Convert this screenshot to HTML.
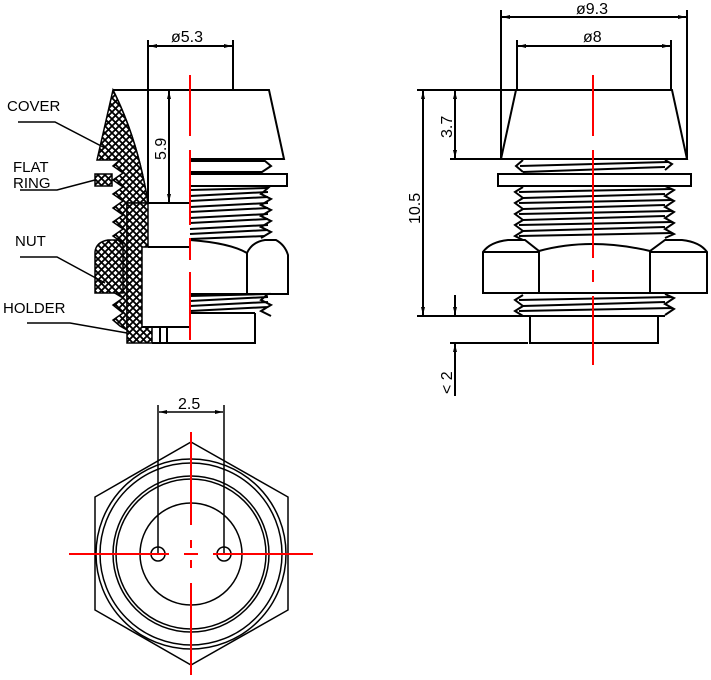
<!DOCTYPE html>
<html><head><meta charset="utf-8"><style>
html,body{margin:0;padding:0;background:#fff}
svg{display:block}
text{font-family:"Liberation Sans",sans-serif;fill:#000}
</style></head><body>
<svg width="711" height="680" viewBox="0 0 711 680" xmlns="http://www.w3.org/2000/svg">
<defs>
<pattern id="h" width="7" height="7" patternUnits="userSpaceOnUse">
<rect width="7" height="7" fill="#fff"/>
<path d="M0,0L7,7M7,0L0,7" stroke="#000" stroke-width="1.8"/>
</pattern>
<marker id="a" markerWidth="8" markerHeight="4" refX="8" refY="2" orient="auto-start-reverse" markerUnits="userSpaceOnUse"><path d="M0,0L8,2L0,4z" fill="#000"/></marker>
</defs>
<g fill="none" stroke="#000" stroke-width="2">
<line x1="148" y1="40" x2="148" y2="203"/>
<line x1="233" y1="40" x2="233" y2="90"/>
<line x1="149" y1="46" x2="232" y2="46" marker-start="url(#a)" marker-end="url(#a)"/>
<line x1="169" y1="91" x2="169" y2="202" marker-start="url(#a)" marker-end="url(#a)"/>
<path d="M113,90 L269,90 L284,159 L190,159"/>
<path d="M113,90 Q138,140 148,203 L127,203 L127,330 L120,326 L113,320 L123,313 L113,305 L123,298 L113,292 L123,285 L113,278 L123,271 L113,264 L123,257 L113,250 L123,243 L113,236 L123,229 L113,222 L123,215 L113,208 L123,201 L113,194 L123,187 L113,180 L123,173 L113,166 L120,160 L97,160 Z" fill="url(#h)" stroke-width="1.5"/>
<path d="M113,90 Q138,140 148,203 L127,203 L127,343 L152,343 L152,327 L142,327 L142,247 L148,247 L148,203" fill="url(#h)" stroke-width="1.5"/>
<rect x="95" y="174" width="17" height="12" fill="url(#h)" stroke-width="1.5"/>
<path d="M95,252 Q96,242 108,240 L118,240 L123,245 L123,293 L95,293 Z" fill="url(#h)" stroke-width="1.5"/>
<path d="M148,203 L190,203 M148,247 L190,247 M142,327 L190,327 M152,343 L255,343 L255,313 M160,327 L160,343 M167,327 L167,343"/>
<path d="M190,161 L265,161 L271,166 L262,172 L190,172"/>
<rect x="190" y="174" width="97" height="12"/>
<path d="M190,190 L268,188 L261,194 L271,199 L261,205 L271,210 L261,216 L271,221 L261,227 L271,232 L261,238"/>
<path d="M190,196 L268,192 M190,201 L268,197 M190,207 L268,203 M190,212 L268,208 M190,218 L268,214 M190,223 L268,219 M190,229 L268,225 M190,234 L268,230 M190,239 L265,236"/>
<path d="M190,240 Q230,243 247,253 Q252,242 265,240 L276,240 Q285,245 288,255 L288,294 L190,294 M247,253 L247,294"/>
<path d="M190,296 L268,294 L261,300 L271,305 L261,311 L271,316 M190,301 L268,297 M190,306 L268,302 M190,311 L268,307 M190,313 L255,313"/>
<path d="M18,122 L55,122 L105,148" stroke-width="1.5"/>
<path d="M20,190 L57,190 L95,180" stroke-width="1.5"/>
<path d="M20,257 L57,257 L105,283" stroke-width="1.5"/>
<path d="M27,323 L70,323 L127,333" stroke-width="1.5"/>

<line x1="501" y1="10" x2="501" y2="159"/>
<line x1="687" y1="10" x2="687" y2="159"/>
<line x1="502" y1="17" x2="686" y2="17" marker-start="url(#a)" marker-end="url(#a)"/>
<line x1="517" y1="40" x2="517" y2="90"/>
<line x1="671" y1="40" x2="671" y2="90"/>
<line x1="518" y1="46" x2="670" y2="46" marker-start="url(#a)" marker-end="url(#a)"/>
<path d="M417,90 L672,90 L687,159 L450,159 M516,90 L501,159"/>
<line x1="423" y1="91" x2="423" y2="315" marker-start="url(#a)" marker-end="url(#a)"/>
<line x1="455" y1="91" x2="455" y2="158" marker-start="url(#a)" marker-end="url(#a)"/>
<path d="M417,316 L665,316 M450,343 L528,343 M455,295 L455,315 M455,344 L455,396"/>
<line x1="455" y1="296" x2="455" y2="315" marker-end="url(#a)"/>
<line x1="455" y1="396" x2="455" y2="344" marker-end="url(#a)"/>
<rect x="530" y="316" width="128" height="27"/>
<path d="M523,160 L516,166 L523,172 M665,160 L672,164 L665,170 M520,166 L668,162 M523,172 L665,167"/>
<rect x="498" y="174" width="193" height="12"/>
<path d="M523,187 L515,192 L523,198 L515,203 L523,209 L515,214 L523,220 L515,225 L523,231 L515,236 L523,240"/>
<path d="M665,186 L674,190 L665,196 L674,201 L665,207 L674,212 L665,218 L674,223 L665,229 L674,234 L665,238"/>
<path d="M519,192 L672,189 M523,198 L665,194 M519,203 L672,200 M523,209 L665,205 M519,214 L672,211 M523,220 L665,216 M519,225 L672,222 M523,231 L665,227 M519,236 L672,233"/>
<path d="M483,252 Q490,242 508,240 L525,240 L539,251 Q590,237 650,251 L665,240 L682,240 Q700,242 707,252 L707,293 L483,293 Z M483,252 L539,252 L539,293 M650,252 L707,252 M650,251 L650,293"/>
<path d="M523,295 L515,300 L523,306 L515,311 L523,316 M665,294 L674,298 L665,304 L674,309 L665,315 M519,300 L672,297 M523,306 L665,302 M519,311 L672,308"/>

<polygon points="191,442 288,497 288,610 191,665 95,610 95,497" stroke-width="1.5"/>
<circle cx="191" cy="554" r="95" stroke-width="1.5"/>
<circle cx="191" cy="554" r="91" stroke-width="1.5"/>
<circle cx="191" cy="554" r="78" stroke-width="1.5"/>
<circle cx="191" cy="554" r="75" stroke-width="1.5"/>
<circle cx="191" cy="554" r="51" stroke-width="1.5"/>
<circle cx="158" cy="554" r="7" stroke-width="1.5"/>
<circle cx="224" cy="554" r="7" stroke-width="1.5"/>
<line x1="158" y1="405" x2="158" y2="554" stroke-width="1.5"/>
<line x1="224" y1="405" x2="224" y2="554" stroke-width="1.5"/>
<line x1="159" y1="412" x2="223" y2="412" stroke-width="1.5" marker-start="url(#a)" marker-end="url(#a)"/>
</g>
<g stroke="#f00" stroke-width="2" fill="none">
<path d="M190,75 L190,136 M190,150 L190,225 M190,238 L190,260 M190,272 L190,340"/>
<path d="M593,75 L593,136 M593,150 L593,258 M593,270 L593,282 M593,296 L593,365"/>
<path d="M191,432 L191,525 M191,540 L191,548 M191,560 L191,568 M191,583 L191,675"/>
<path d="M69,554 L169,554 M184,554 L198,554 M213,554 L313,554"/>
</g>
<text x="171" y="42" font-size="16">ø5.3</text>
<text x="576" y="14" font-size="16">ø9.3</text>
<text x="583" y="42" font-size="16">ø8</text>
<text x="178" y="409" font-size="16">2.5</text>
<text font-size="16" transform="translate(166,160) rotate(-90)">5.9</text>
<text font-size="16" transform="translate(420,224) rotate(-90)">10.5</text>
<text font-size="16" transform="translate(452,138) rotate(-90)">3.7</text>
<text font-size="16" transform="translate(452,394) rotate(-90)">&lt; 2</text>
<text x="7" y="111" font-size="15">COVER</text>
<text x="13" y="172" font-size="15">FLAT</text>
<text x="13" y="188" font-size="15">RING</text>
<text x="15" y="246" font-size="15">NUT</text>
<text x="3" y="313" font-size="15">HOLDER</text>
</svg>
</body></html>
